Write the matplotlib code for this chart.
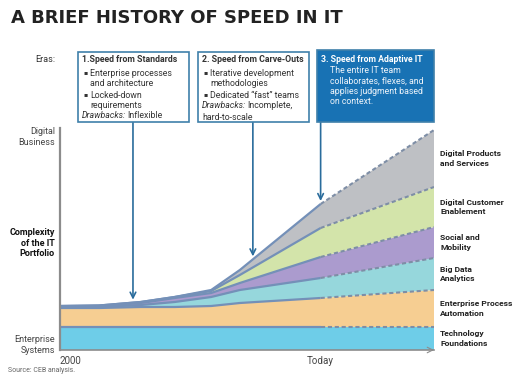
import numpy as np
import matplotlib
matplotlib.use('Agg')
import matplotlib.pyplot as plt
from matplotlib.patches import Rectangle

plt.rcParams['font.family'] = ['Roboto', 'DejaVu Sans']

W, H = 520, 380

# time axis (0 = 2000, 100 = today), layer thicknesses bottom -> top
x = [0, 15, 31, 44, 58, 69, 100, 143.5]
today = 100
tech = [23, 23, 23, 23, 23, 23, 23, 23]
epa = [19, 19, 20, 20, 21, 24, 29, 37]
bda = [1, 1, 2, 5, 9, 13, 20, 32]
social = [0.5, 1, 2, 4, 4, 7, 21, 31]
dce = [0.5, 0.5, 1, 1, 2, 8, 29, 40]
dps = [0, 0, 0, 0, 1, 5, 24, 57]

layer_names = ['Technology\nFoundations', 'Enterprise Process\nAutomation',
               'Big Data\nAnalytics', 'Social and\nMobility',
               'Digital Customer\nEnablement', 'Digital Products\nand Services']
layer_colors = ['#6ECDE8', '#F6CE92', '#96D7DC', '#AB9BCE', '#D3E4AA', '#BEC0C4']

era_x = [28, 74, 100]
era_titles = ['1.Speed from Standards', '2. Speed from Carve-Outs',
              '3. Speed from Adaptive IT']


def fx(px):
    return px / W


def fy(py):
    return 1 - py / H


fig = plt.figure(figsize=(W / 100, H / 100), dpi=100)
ax = fig.add_axes([fx(60), fy(350), fx(434) - fx(60), fy(128) - fy(350)])

layers = [tech, epa, bda, social, dce, dps]
ax.stackplot(x, *layers, colors=layer_colors, lw=0)
tops = np.cumsum(np.array(layers, dtype=float), axis=0)

xa = np.array(x)
solid = xa <= today
dashed = xa >= today
for top in tops:
    ax.plot(xa[solid], top[solid], color='#7490B8', lw=1.6, solid_capstyle='butt')
    ax.plot(xa[dashed], top[dashed], color='#7E8EA6', lw=1.5,
            linestyle=(0, (2, 1.3)))

ax.set_xlim(0, x[-1])
ax.set_ylim(0, 222)
ax.set_xticks([])
ax.set_yticks([])
for s in ['top', 'right']:
    ax.spines[s].set_visible(False)
ax.spines['left'].set_color('#8C8C8C')
ax.spines['left'].set_linewidth(1.6)
ax.spines['bottom'].set_color('#8C8C8C')
ax.spines['bottom'].set_linewidth(1.2)
ax.annotate('', xy=(x[-1], 0), xytext=(x[-1] - 2, 0),
            arrowprops=dict(arrowstyle='->', color='#8C8C8C', lw=0.8),
            annotation_clip=False)

# right-hand layer labels
for name, lo, hi in zip(layer_names, np.vstack([np.zeros(len(x)), tops[:-1]]), tops):
    ax.annotate(name, xy=(x[-1], (lo[-1] + hi[-1]) / 2), xytext=(4.5, 0),
                textcoords='offset points', va='center', ha='left',
                fontsize=6.1, fontweight='bold', color='#222222',
                linespacing=1.35, annotation_clip=False)

# axis labels
fig.text(fx(55), fy(137), 'Digital\nBusiness', ha='right', va='center',
         fontsize=6.5, color='#444444', linespacing=1.15)
fig.text(fx(55), fy(243), 'Complexity\nof the IT\nPortfolio', ha='right',
         va='center', fontsize=6.5, fontweight='bold', color='#111111',
         linespacing=1.15)
fig.text(fx(55), fy(345), 'Enterprise\nSystems', ha='right', va='center',
         fontsize=6.5, color='#444444', linespacing=1.15)
ax.annotate('2000', xy=(0, 0), xytext=(0, -4), textcoords='offset points',
            ha='left', va='top', fontsize=7, color='#444444')
ax.annotate('Today', xy=(today, 0), xytext=(0, -4), textcoords='offset points',
            ha='center', va='top', fontsize=7, color='#444444')
fig.text(fx(8), fy(370), 'Source: CEB analysis.', ha='left', va='center',
         fontsize=5, color='#666666')

# title
fig.text(fx(11), fy(18), 'A BRIEF HISTORY OF SPEED IN IT', ha='left',
         va='center', fontsize=13, fontweight='bold', color='#222222',
         family='DejaVu Sans')
fig.text(fx(55), fy(60), 'Eras:', ha='right', va='center', fontsize=6.5,
         color='#333333')

# era boxes
box_c = '#3F80AA'
boxes = [(78, 52, 189, 122, 'white'), (198, 52, 309, 122, 'white'),
         (317, 50, 434, 122, '#1872B4')]
for (x0, y0, x1, y1, fc) in boxes:
    fig.patches.append(Rectangle((fx(x0), fy(y1)), fx(x1) - fx(x0),
                                 fy(y0) - fy(y1), transform=fig.transFigure,
                                 facecolor=fc, edgecolor=box_c, lw=1.2))

fs = 6.3
tc = '#333333'
renderer = fig.canvas.get_renderer()


def drawbacks(px, py, rest):
    t = fig.text(fx(px), fy(py), 'Drawbacks:', fontsize=fs, style='italic',
                 color=tc, va='center', ha='left')
    bb = t.get_window_extent(renderer)
    fig.text(bb.x1 / W + 1.5 / W, fy(py), rest, fontsize=fs, color=tc,
             va='center', ha='left')


def bullet(px, py, lines):
    fig.text(fx(px), fy(py), '\u25aa', fontsize=4.5, color=tc, va='center',
             ha='left')
    for i, ln in enumerate(lines):
        fig.text(fx(px + 7), fy(py + i * 10.5), ln, fontsize=fs, color=tc,
                 va='center', ha='left')


fig.text(fx(82), fy(60), era_titles[0], fontsize=fs, fontweight='bold',
         color=tc, va='center')
bullet(83, 73, ['Enterprise processes', 'and architecture'])
bullet(83, 95, ['Locked-down', 'requirements'])
drawbacks(82, 116, 'Inflexible')

fig.text(fx(202), fy(60), era_titles[1], fontsize=fs, fontweight='bold',
         color=tc, va='center')
bullet(203, 73, ['Iterative development', 'methodologies'])
bullet(203, 95, ['Dedicated \u201cfast\u201d teams'])
drawbacks(202, 106, 'Incomplete,')
fig.text(fx(202), fy(117), 'hard-to-scale', fontsize=fs, color=tc,
         va='center')

fig.text(fx(321), fy(59), era_titles[2], fontsize=fs, fontweight='bold',
         color='white', va='center')
fig.text(fx(330), fy(66), 'The entire IT team\ncollaborates, flexes, and\n'
         'applies judgment based\non context.', fontsize=fs, color='#EEF4FA',
         va='top', ha='left', linespacing=1.2)

# arrows from era boxes to the stack top
top_line = tops[-1]
for ex in era_x:
    ty = np.interp(ex, x, top_line) + 3
    ax.annotate('', xy=(ex, ty), xytext=(ex, fig.dpi * 3.8 - 122),
                xycoords='data', textcoords=('data', 'figure pixels'),
                arrowprops=dict(arrowstyle='->', color='#2A6C9C', lw=1.2,
                                shrinkA=0, shrinkB=0),
                annotation_clip=False)

fig.savefig('out.png', dpi=100)
